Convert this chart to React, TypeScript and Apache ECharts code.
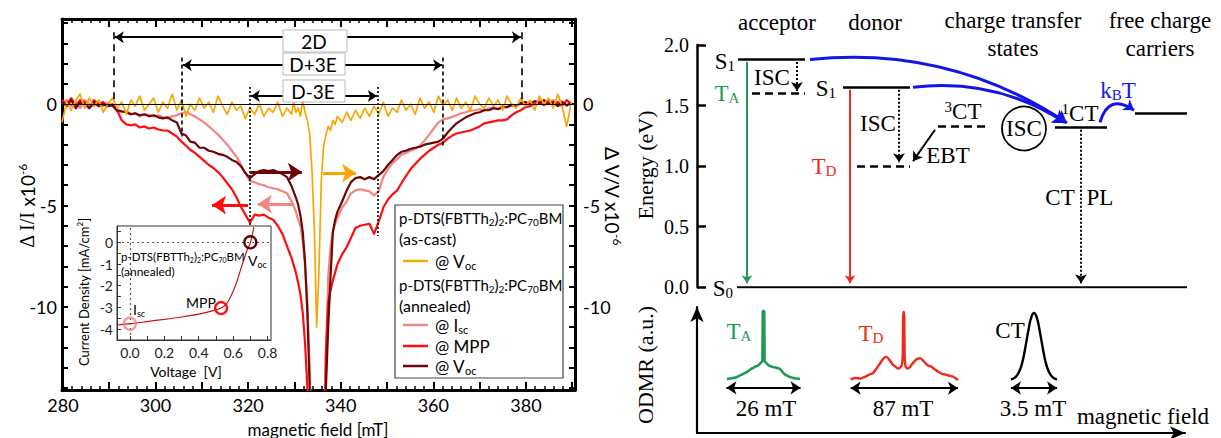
import { useEffect, useRef } from 'react';
import * as echarts from 'echarts';

const SANS = 'Lato, "Open Sans", "DejaVu Sans", sans-serif';
const SERIF = '"Liberation Serif", "DejaVu Serif", serif';

const ORANGE = '#F9A602';
const PINK = '#F28482';
const RED = '#FF0D0D';
const DARK = '#6E0606';
const GREEN = '#1F9A55';
const TDRED = '#EE2B1A';
const BLUE = '#1414E6';

// ---------- main panel: magnetic field (mT) ----------
const field = [
  279.8, 280.8, 281.8, 282.8, 283.7, 284.7, 285.7, 286.7, 287.7, 288.7,
  289.7, 290.7, 291.7, 292.7, 293.7, 294.7, 295.6, 296.6, 297.6, 298.6,
  299.6, 300.6, 301.6, 302.6, 303.6, 304.6, 305.6, 306.6, 307.5, 308.5,
  309.5, 310.5, 311.5, 312.5, 313.5, 314.5, 315.5, 316.5, 317.5, 318.4,
  319.4, 320.4, 321.4, 322.4, 323.4, 324.4, 325.4, 326.4, 327.4, 328.4,
  329.4, 329.8, 330.3, 330.8, 331.3, 331.8, 332.3, 332.8, 333.3, 333.8,
  334.3, 334.8, 335.3, 335.8, 336.3, 336.8, 337.3, 337.8, 338.3, 338.8,
  339.3, 340.3, 341.3, 342.2, 343.2, 344.2, 345.2, 346.2, 347.2, 348.2,
  349.2, 350.2, 351.2, 352.2, 353.1, 354.1, 355.1, 356.1, 357.1, 358.1,
  359.1, 360.1, 361.1, 362.1, 363.1, 364.1, 365.0, 366.0, 367.0, 368.0,
  369.0, 370.0, 371.0, 372.0, 373.0, 374.0, 375.0, 375.9, 376.9, 377.9,
  378.9, 379.9, 380.9, 381.9, 382.9, 383.9, 384.9, 385.9, 386.9, 387.8,
  388.8, 389.8,
];

// as-cast @ Voc (ΔV/V x1e-6)
const asCastVoc = [
  -0.9, 0.1, -0.3, 0.2, 0.5, -0.2, 0.3, -0.1, 0.2, -0.4,
  0.0, 0.3, -0.2, 0.1, -0.5, 0.2, -0.1, 0.4, -0.3, 0.0,
  0.3, -0.4, 0.1, -0.2, 0.5, -0.3, 0.2, -0.6, 0.0, -0.3,
  0.3, -0.2, 0.1, -0.4, 0.4, -0.1, -0.5, 0.1, -0.3, -0.1,
  -0.7, -0.2, -0.5, 0.0, -0.6, -0.2, -0.4, 0.1, -0.6, -0.2,
  -0.5, 0.1, -0.4, -0.2, -0.6, 0.2, -0.4, -0.8, -1.5, -3.3,
  -6.2, -11.0, -8.2, -3.8, -2.1, -1.5, -1.1, -1.3, -0.8, -1.0,
  -0.6, -0.9, -0.4, -0.8, -0.3, -0.7, -0.2, -0.6, -0.1, -0.5,
  0.1, -0.6, -0.2, -0.4, 0.2, -0.3, 0.0, -0.5, 0.3, -0.2,
  0.1, -0.4, 0.4, -0.1, 0.2, -0.3, 0.3, -0.2, 0.1, -0.3,
  0.4, 0.0, -0.2, 0.3, -0.1, 0.2, -0.3, 0.4, 0.0, -0.2,
  0.3, -0.1, 0.2, -0.3, 0.4, 0.0, 0.3, -0.2, 0.5, -0.1,
  -1.1, 0.1,
];

// annealed @ Isc (ΔI/I x1e-6)
const annealedIsc = [
  0.0, 0.2, -0.1, 0.1, -0.2, 0.2, 0.0, -0.1, 0.15, -0.1,
  0.05, -0.1, -0.35, -0.4, -0.35, -0.5, -0.45, -0.6, -0.5, -0.55,
  -0.6, -0.55, -0.65, -0.7, -0.6, -0.55, -0.45, -0.4, -0.5, -0.6,
  -0.75, -0.9, -1.1, -1.3, -1.5, -1.75, -2.0, -2.3, -2.6, -2.95,
  -3.4, -3.8, -3.85, -3.95, -4.0, -4.1, -4.15, -4.2, -4.3, -4.4,
  -4.8, -5.0, -5.3, -5.7, -6.0, -6.8, -8.0, -9.8, -13, -17,
  -20, -20, -20, -20, -17, -12.5, -8.5, -7.0, -6.3, -5.9,
  -5.6, -5.1, -4.8, -4.4, -4.25, -4.2, -4.25, -4.3, -4.5, -4.3,
  -3.6, -3.2, -2.9, -2.7, -2.5, -2.4, -2.3, -2.2, -2.05, -1.8,
  -1.5, -1.2, -0.9, -0.75, -0.7, -0.62, -0.55, -0.45, -0.4, -0.32,
  -0.3, -0.25, -0.3, -0.2, -0.15, -0.2, -0.1, -0.15, 0.0, -0.1,
  0.1, -0.05, 0.15, 0.0, 0.2, -0.05, 0.1, 0.2, 0.0, 0.15,
  -0.1, 0.1,
];

// annealed @ MPP
const annealedMpp = [
  0.2, 0.0, 0.3, -0.1, 0.2, 0.1, -0.2, 0.2, 0.0, 0.1,
  -0.1, 0.0, -0.3, -0.8, -1.0, -1.05, -1.0, -1.15, -1.1, -1.2,
  -1.15, -1.25, -1.3, -1.3, -1.45, -1.6, -1.85, -2.05, -2.25, -2.4,
  -2.6, -2.8, -3.0, -3.15, -3.35, -3.6, -3.9, -4.2, -4.6, -5.05,
  -5.45, -5.85, -5.45, -5.5, -5.45, -5.6, -5.7, -6.0, -6.4, -7.0,
  -7.6, -7.9, -8.3, -8.8, -9.4, -10.3, -11.8, -14, -17, -20,
  -20, -20, -20, -20, -20, -12.2, -9.8, -9.2, -8.7, -8.3,
  -7.9, -7.4, -7.05, -6.6, -6.1, -6.0, -5.95, -5.9, -6.4, -5.8,
  -5.1, -4.7, -4.45, -4.25, -3.9, -3.55, -3.2, -2.95, -2.7, -2.5,
  -2.3, -2.15, -2.0, -1.9, -1.7, -1.55, -1.45, -1.4, -1.35, -1.3,
  -1.2, -1.1, -0.95, -0.9, -0.85, -0.8, -0.8, -0.75, -0.55, -0.4,
  -0.3, -0.15, -0.1, 0.0, 0.1, -0.05, 0.15, 0.0, 0.1, -0.1,
  0.2, 0.0,
];

// annealed @ Voc
const annealedVoc = [
  0.1, -0.1, 0.2, -0.2, 0.1, 0.0, -0.2, 0.1, -0.1, 0.0,
  -0.1, -0.05, -0.3, -0.35, -0.4, -0.5, -0.45, -0.55, -0.5, -0.6,
  -0.55, -0.65, -0.7, -0.65, -0.8, -0.9, -1.45, -1.55, -1.85, -1.9,
  -2.15, -2.15, -2.3, -2.35, -2.45, -2.5, -2.6, -2.75, -2.85, -3.05,
  -3.4, -3.65, -3.45, -3.3, -3.25, -3.3, -3.25, -3.35, -3.45, -3.6,
  -4.05, -4.3, -4.6, -4.95, -5.5, -6.3, -7.8, -10.3, -14, -18,
  -20, -20, -20, -20, -18, -14, -11, -8.5, -6.3, -5.7,
  -5.3, -4.8, -4.25, -3.85, -3.65, -3.6, -3.7, -3.6, -3.7, -3.5,
  -3.3, -3.0, -2.75, -2.5, -2.35, -2.3, -2.2, -2.15, -2.1, -2.0,
  -1.95, -1.9, -1.85, -1.7, -1.4, -1.15, -0.95, -0.8, -0.65, -0.55,
  -0.45, -0.4, -0.3, -0.3, -0.2, -0.25, -0.15, -0.15, -0.05, -0.1,
  0.05, 0.1, 0.0, 0.15, 0.05, 0.2, 0.0, 0.1, -0.1, 0.1,
  -0.05, 0.05,
];

const xMajorTicks = [280, 290, 300, 310, 320, 330, 340, 350, 360, 370, 380, 390];
const xLabelValues = [280, 300, 320, 340, 360, 380];
const xMinorTicks = [
  282, 284, 286, 288, 292, 294, 296, 298, 302, 304, 306, 308, 312, 314, 316, 318,
  322, 324, 326, 328, 332, 334, 336, 338, 342, 344, 346, 348, 352, 354, 356, 358,
  362, 364, 366, 368, 372, 374, 376, 378, 382, 384, 386, 388,
];
const yTicks = [-14, -13, -12, -11, -10, -9, -8, -7, -6, -5, -4, -3, -2, -1, 0, 1, 2, 3, 4];
const yLabelValues = [-10, -5, 0];

// splittings (mT)
const splitNames = ['2D', 'D+3E', 'D-3E'];
const splitLow = [291.0, 305.7, 320.4];
const splitHigh = [379.1, 362.1, 348.0];

// ---------- inset: J-V curve ----------
const insetVoltage = [-0.075, 0, 0.1, 0.2, 0.3, 0.4, 0.45, 0.5, 0.53, 0.56, 0.58, 0.6, 0.62, 0.64, 0.66, 0.68, 0.7, 0.71, 0.72];
const insetCurrent = [-3.81, -3.75, -3.65, -3.55, -3.44, -3.31, -3.22, -3.11, -3.03, -2.85, -2.6, -2.25, -1.85, -1.35, -0.85, -0.38, -0.02, 0.3, 0.7];
const opPointVoltage = [0, 0.53, 0.7];
const opPointCurrent = [-3.75, -3.03, 0];
const insetXTicks = [0, 0.1, 0.2, 0.3, 0.4, 0.5, 0.6, 0.7, 0.8];
const insetXLabels = [0, 0.2, 0.4, 0.6, 0.8];
const insetYTicks = [-4.5, -4, -3.5, -3, -2.5, -2, -1.5, -1, -0.5, 0, 0.5];
const insetYLabels = [-4, -3, -2, -1, 0];

// ---------- energy diagram (eV) ----------
const E_S1_ACC = 1.88;
const E_TA = 1.6;
const E_S1_DON = 1.65;
const E_TD = 1.0;
const E_3CT = 1.33;
const E_1CT = 1.32;
const E_FREE = 1.44;
const E_S0 = 0;

// ---------- ODMR spectra ----------
const taField = [-13, -10, -7.9, -6, -4.7, -3, -1.8, -0.9, -0.4, -0.25, 0.25, 0.4, 0.9, 1.8, 3, 4.3, 5.8, 7.5, 9.3, 11, 13];
const taSignal = [0, 0.02, 0.06, 0.1, 0.14, 0.18, 0.2, 0.24, 0.26, 1.0, 1.0, 0.26, 0.24, 0.2, 0.18, 0.17, 0.15, 0.07, 0.03, 0.01, 0];
const tdField = [-43, -39, -35, -31, -28, -25, -22, -19, -17, -15, -13, -11, -9, -7, -5, -3, -1.5, -0.8, -0.3, 0.3, 0.8, 1.5, 3, 5, 7, 9, 11, 13.5, 16, 18, 20, 22, 25, 28, 31, 34, 37, 40, 44];
const tdSignal = [0.01, 0.03, 0.02, 0.05, 0.08, 0.1, 0.17, 0.25, 0.3, 0.34, 0.33, 0.28, 0.23, 0.2, 0.17, 0.18, 0.22, 0.35, 1.0, 1.0, 0.35, 0.2, 0.17, 0.19, 0.24, 0.28, 0.31, 0.32, 0.28, 0.24, 0.21, 0.2, 0.16, 0.12, 0.09, 0.08, 0.06, 0.05, 0.0];
const ctField = [-1.75, -1.5, -1.25, -1.0, -0.8, -0.6, -0.4, -0.2, 0, 0.2, 0.4, 0.6, 0.8, 1.0, 1.25, 1.5, 1.75];
const ctSignal = [0.01, 0.03, 0.08, 0.19, 0.34, 0.55, 0.77, 0.94, 1.0, 0.94, 0.77, 0.55, 0.34, 0.19, 0.08, 0.03, 0.01];

const zip = (xs: number[], ys: number[]) => xs.map((x, i) => [x, ys[i]]);

function trace(name: string, ys: number[], color: string, width: number, extra: any = {}) {
  return {
    type: 'line', name, xAxisIndex: 0, yAxisIndex: 0, data: zip(field, ys),
    symbol: 'none', showSymbol: false, clip: true, z: 2, silent: true,
    lineStyle: { color, width, join: 'round' }, ...extra,
  };
}

function seg(coords: number[][][], color: string, width: number, type: any, arrow: any, xi: number, yi: number, extra: any = {}) {
  return {
    type: 'lines', coordinateSystem: 'cartesian2d', xAxisIndex: xi, yAxisIndex: yi, z: 4, silent: true,
    symbol: arrow, symbolSize: 10,
    lineStyle: { color, width, type, opacity: 1, curveness: 0 },
    data: coords.map((c) => ({ coords: c })),
    ...extra,
  };
}

function txt(x: number, y: number, text: string, o: any = {}) {
  return {
    type: 'text', x, y, z: 50, silent: true, rotation: o.rotation || 0,
    style: {
      text, fill: o.fill || '#000', fontFamily: o.fontFamily || SANS, fontSize: o.fontSize || 17,
      align: o.align || 'center', verticalAlign: o.verticalAlign || 'middle', rich: o.rich,
    },
  };
}

const richSans = (size: number) => ({
  n: { fontFamily: SANS, fontSize: size, lineHeight: size + 3 },
  s: { fontFamily: SANS, fontSize: Math.round(size * 0.65), lineHeight: 6, verticalAlign: 'bottom' },
  u: { fontFamily: SANS, fontSize: Math.round(size * 0.65), lineHeight: 6, verticalAlign: 'top' },
  r: { fontFamily: SERIF, fontSize: size + 1, lineHeight: size + 3 },
});
const richSerif = (size: number) => ({
  m: { fontFamily: SERIF, fontSize: size, lineHeight: size + 1 },
  s: { fontFamily: SERIF, fontSize: Math.round(size * 0.66), lineHeight: 6, verticalAlign: 'bottom' },
  p: { fontFamily: SERIF, fontSize: Math.round(size * 0.66), lineHeight: 6, verticalAlign: 'top' },
});

const line = (x1: number, y1: number, x2: number, y2: number, stroke: string, w: number) => ({
  type: 'line', z: 45, silent: true, shape: { x1, y1, x2, y2 }, style: { stroke, lineWidth: w },
});
const box = (x: number, y: number, w: number, h: number, stroke: string, lw: number) => ({
  type: 'rect', z: 40, silent: true, shape: { x, y, width: w, height: h }, style: { fill: '#fff', stroke, lineWidth: lw },
});

function buildOption() {
  const mainX = (position: string, major: boolean, labels: boolean) => ({
    type: 'value', gridIndex: 0, position, min: 279.8, max: 390.6,
    axisLine: { show: major, onZero: false, lineStyle: { color: '#000', width: 3 } },
    axisTick: { show: true, inside: true, length: major ? 8 : 4, lineStyle: { color: '#000', width: major ? 2 : 1.5 }, customValues: major ? xMajorTicks : xMinorTicks },
    axisLabel: labels ? { show: true, customValues: xLabelValues, color: '#000', fontSize: 18, fontFamily: SANS, margin: 6 } : { show: false },
    splitLine: { show: false },
  });
  const mainY = (position: string) => ({
    type: 'value', gridIndex: 0, position, min: -14.1, max: 4.2,
    axisLine: { show: true, onZero: false, lineStyle: { color: '#000', width: 3 } },
    axisTick: { show: true, inside: true, length: 6, lineStyle: { color: '#000', width: 2 }, customValues: yTicks },
    axisLabel: { show: true, customValues: yLabelValues, color: '#000', fontSize: 18, fontFamily: SANS, margin: position === 'left' ? 5 : 8 },
    splitLine: { show: false },
  });
  const hidden = (gridIndex: number, min: number, max: number) => ({ type: 'value', gridIndex, min, max, show: false, splitLine: { show: false } });

  const xAxis = [
    mainX('bottom', true, true),
    mainX('bottom', false, false),
    mainX('top', true, false),
    mainX('top', false, false),
    {
      type: 'value', gridIndex: 1, position: 'bottom', min: -0.075, max: 0.82, z: 6,
      axisLine: { onZero: false, lineStyle: { color: '#333', width: 1 } },
      axisTick: { inside: true, length: 4, customValues: insetXTicks, lineStyle: { color: '#333' } },
      axisLabel: { customValues: insetXLabels, formatter: (v: number) => v.toFixed(1), fontSize: 14, fontFamily: SANS, color: '#222', margin: 5 },
      splitLine: { show: false },
    },
    hidden(2, 0, 500),
    {
      type: 'value', gridIndex: 3, min: 0, max: 1,
      axisLine: { show: true, onZero: false, symbol: ['none', 'arrow'], symbolSize: [10, 15], lineStyle: { color: '#000', width: 2.2 } },
      axisTick: { show: false }, axisLabel: { show: false }, splitLine: { show: false },
    },
    hidden(4, -13, 13),
    hidden(5, -43.5, 44),
    hidden(6, -1.75, 1.75),
  ];
  const yAxis = [
    mainY('left'),
    mainY('right'),
    {
      type: 'value', gridIndex: 1, position: 'left', min: -4.5, max: 0.75, z: 6,
      axisLine: { onZero: false, lineStyle: { color: '#333', width: 1 } },
      axisTick: { inside: true, length: 4, customValues: insetYTicks, lineStyle: { color: '#333' } },
      axisLabel: { customValues: insetYLabels, fontSize: 14, fontFamily: SANS, color: '#222', margin: 4 },
      splitLine: { show: false },
    },
    {
      type: 'value', gridIndex: 2, min: 0, max: 2, interval: 0.5,
      axisLine: { show: true, onZero: false, lineStyle: { color: '#000', width: 2.5 } },
      axisTick: { show: true, inside: true, length: 9, lineStyle: { color: '#000', width: 2.5 } },
      axisLabel: { formatter: (v: number) => v.toFixed(1), fontSize: 20, fontFamily: SERIF, color: '#000', margin: 8 },
      splitLine: { show: false },
    },
    {
      type: 'value', gridIndex: 3, min: 0, max: 1,
      axisLine: { show: true, onZero: false, symbol: ['none', 'arrow'], symbolSize: [10, 15], lineStyle: { color: '#000', width: 2.2 } },
      axisTick: { show: false }, axisLabel: { show: false }, splitLine: { show: false },
    },
    hidden(4, 0, 1),
    hidden(5, 0, 1),
    hidden(6, 0, 1),
  ];

  // annotation geometry (value units)
  const dashTop = [3.55, 2.3, 0.85];
  const dashBottom = [[0.2, 0.2], [-1.6, -2.1], [-6.0, -6.5]];
  const arrowY = [3.3, 1.92, 0.4];
  const boxL = [327.5, 327.5, 327.5];
  const boxR = [341.3, 340.9, 340.9];
  const dashTypes = [[7, 5], [4, 3], [2, 2]];

  const series: any[] = [
    trace('annealed @ Isc', annealedIsc, PINK, 2.2, {
      markLine: { silent: true, symbol: ['none', 'none'], label: { show: false }, lineStyle: { color: '#000', width: 1, type: 'solid' }, data: [{ yAxis: 0 }] },
    }),
    trace('annealed @ MPP', annealedMpp, RED, 2.2),
    trace('annealed @ Voc', annealedVoc, DARK, 2.2),
    trace('as-cast @ Voc', asCastVoc, ORANGE, 1.7),
  ];
  splitNames.forEach((_, i) => {
    series.push(seg([
      [[splitLow[i], dashTop[i]], [splitLow[i], dashBottom[i][0]]],
      [[splitHigh[i], dashTop[i]], [splitHigh[i], dashBottom[i][1]]],
    ], '#000', 1.6, dashTypes[i], 'none', 0, 0));
    series.push(seg([
      [[boxL[i], arrowY[i]], [splitLow[i] + 0.2, arrowY[i]]],
      [[boxR[i], arrowY[i]], [splitHigh[i] - 0.2, arrowY[i]]],
    ], '#000', 2, 'solid', ['none', 'arrow'], 0, 0, { symbolSize: 9 }));
  });
  series.push(seg([[[320.4, -3.35], [331.6, -3.35]]], DARK, 3, 'solid', ['none', 'arrow'], 0, 0, { symbolSize: 14 }));
  series.push(seg([[[336.2, -3.4], [343.3, -3.4]]], ORANGE, 3, 'solid', ['none', 'arrow'], 0, 0, { symbolSize: 14 }));
  series.push(seg([[[329.7, -4.93], [322.1, -4.93]]], PINK, 3, 'solid', ['none', 'arrow'], 0, 0, { symbolSize: 14 }));
  series.push(seg([[[320.0, -4.98], [312.2, -4.98]]], RED, 3, 'solid', ['none', 'arrow'], 0, 0, { symbolSize: 14 }));

  // inset
  series.push({
    type: 'line', xAxisIndex: 4, yAxisIndex: 2, z: 7, data: zip(insetVoltage, insetCurrent), smooth: 0.3,
    symbol: 'none', silent: true, clip: true, lineStyle: { color: '#C81414', width: 1.2 },
    markLine: { silent: true, symbol: ['none', 'none'], label: { show: false }, lineStyle: { color: '#555', width: 1.2, type: [2, 3] }, data: [{ xAxis: 0 }, { yAxis: 0 }] },
  });
  const opColors = ['rgba(240,120,120,0.75)', '#FF1010', '#5A0000'];
  series.push({
    type: 'scatter', xAxisIndex: 4, yAxisIndex: 2, z: 8, silent: true, symbol: 'circle', symbolSize: 12,
    data: opPointVoltage.map((v, i) => ({ value: [v, opPointCurrent[i]], itemStyle: { color: 'rgba(0,0,0,0)', borderColor: opColors[i], borderWidth: 2.3, opacity: 1 } })),
  });

  // energy diagram (grid 2): x offsets are layout pixels
  series.push(seg([
    [[41, E_S1_ACC], [108, E_S1_ACC]],
    [[146, E_S1_DON], [213, E_S1_DON]],
    [[358, E_1CT], [410, E_1CT]],
    [[438, E_FREE], [490, E_FREE]],
    [[40, E_S0], [490, E_S0]],
  ], '#000', 2.5, 'solid', 'none', 5, 3));
  series.push(seg([
    [[55, E_TA], [108, E_TA]],
    [[160, E_TD], [213, E_TD]],
    [[241, E_3CT], [293, E_3CT]],
  ], '#000', 2.5, [8, 5], 'none', 5, 3));
  series.push(seg([[[50, E_S1_ACC - 0.02], [50, E_S0 + 0.03]]], GREEN, 2, 'solid', ['none', 'arrow'], 5, 3, { symbolSize: 8 }));
  series.push(seg([[[153, E_S1_DON - 0.02], [153, E_S0 + 0.03]]], TDRED, 2, 'solid', ['none', 'arrow'], 5, 3, { symbolSize: 8 }));
  series.push(seg([
    [[100, E_S1_ACC - 0.02], [100, E_TA + 0.02]],
    [[202, E_S1_DON - 0.02], [202, E_TD + 0.03]],
    [[384, E_1CT - 0.02], [384, E_S0 + 0.03]],
  ], '#000', 2, [2, 2], ['none', 'arrow'], 5, 3, { symbolSize: 9 }));
  series.push(seg([[[238, E_3CT - 0.03], [216, E_TD + 0.04]]], '#000', 2, 'solid', ['none', 'arrow'], 5, 3, { symbolSize: 9 }));
  series.push(seg([
    [[113, E_S1_ACC], [370, E_1CT + 0.035]],
    [[216, E_S1_DON], [368, E_1CT + 0.04]],
  ], BLUE, 3, 'solid', ['none', 'arrow'], 5, 3, { symbolSize: 12, lineStyle: { color: BLUE, width: 3, opacity: 1, curveness: 0.18 } }));
  series.push(seg([[[403, E_1CT + 0.04], [437, E_FREE + 0.02]]], BLUE, 3, 'solid', ['none', 'arrow'], 5, 3, { symbolSize: 10, lineStyle: { color: BLUE, width: 3, opacity: 1, curveness: 0.7 } }));
  series.push({
    type: 'scatter', xAxisIndex: 5, yAxisIndex: 3, z: 6, silent: true, symbol: 'circle', symbolSize: 44,
    itemStyle: { color: '#fff', borderColor: '#000', borderWidth: 1.8, opacity: 1 },
    label: { show: true, position: 'inside', formatter: 'ISC', fontFamily: SERIF, fontSize: 23, color: '#000' },
    data: [[327, 1.31]],
  });

  // ODMR spectra
  series.push({ type: 'line', xAxisIndex: 7, yAxisIndex: 5, data: zip(taField, taSignal), symbol: 'none', silent: true, clip: false, lineStyle: { color: GREEN, width: 2.6 } });
  series.push({ type: 'line', xAxisIndex: 8, yAxisIndex: 6, data: zip(tdField, tdSignal), smooth: 0.2, symbol: 'none', silent: true, clip: false, lineStyle: { color: TDRED, width: 2.4 } });
  series.push({ type: 'line', xAxisIndex: 9, yAxisIndex: 7, data: zip(ctField, ctSignal), smooth: true, symbol: 'none', silent: true, clip: false, lineStyle: { color: '#000', width: 2.4 } });
  series.push(seg([[[-13.2, -0.13], [13.2, -0.13]]], '#000', 2, 'solid', ['arrow', 'arrow'], 7, 5, { clip: false, symbolSize: 10 }));
  series.push(seg([[[-43, -0.12], [44, -0.12]]], '#000', 2, 'solid', ['arrow', 'arrow'], 8, 6, { clip: false, symbolSize: 10 }));
  series.push(seg([[[-1.75, -0.12], [1.75, -0.12]]], '#000', 2, 'solid', ['arrow', 'arrow'], 9, 7, { clip: false, symbolSize: 10 }));

  const rs17 = richSans(17);
  const rs15 = richSans(15);
  const rs13 = richSans(13);
  const rs19 = richSans(19);
  const sr = richSerif(23);
  const subFormula = '{n|p-DTS(FBTTh}{s|2}{n|)}{s|2}{n|:PC}{s|70}{n|BM}';

  const graphic: any[] = [
    // axis titles
    txt(318, 429, 'magnetic field [mT]', { fontSize: 17 }),
    txt(27, 206, '{r|Δ I/I }{n|x10}{u|-6}', { rotation: Math.PI / 2, rich: rs19 }),
    txt(612, 196, '{n|Δ V/V x10}{u|-6}', { rotation: -Math.PI / 2, rich: rs19 }),
    // splitting boxes
    box(283, 30, 64, 22, '#bbb', 1), txt(314, 41, splitNames[0], { fontSize: 19 }),
    box(283, 53, 62, 22, '#bbb', 1), txt(313, 64, splitNames[1], { fontSize: 19 }),
    box(283, 80, 62, 22, '#bbb', 1), txt(313, 91, splitNames[2], { fontSize: 19 }),
    // legend
    box(395, 205, 168, 173, '#444', 1.2),
    txt(399, 218, subFormula, { align: 'left', rich: rs15 }),
    txt(399, 238, '(as-cast)', { align: 'left', fontSize: 16 }),
    line(403, 261, 428, 261, ORANGE, 2.5),
    txt(435, 261, '{n|@ V}{s|oc}', { align: 'left', rich: rs17 }),
    txt(399, 285, subFormula, { align: 'left', rich: rs15 }),
    txt(399, 305, '(annealed)', { align: 'left', fontSize: 16 }),
    line(403, 325, 428, 325, PINK, 2.5),
    txt(435, 325, '{n|@ I}{s|sc}', { align: 'left', rich: rs17 }),
    line(403, 346, 428, 346, RED, 2.5),
    txt(435, 346, '@ MPP', { align: 'left', fontSize: 17 }),
    line(403, 366, 428, 366, DARK, 2.5),
    txt(435, 366, '{n|@ V}{s|oc}', { align: 'left', rich: rs17 }),
    // inset labels
    txt(84, 292, '{n|Current Density [mA/cm}{u|2}{n|]}', { rotation: Math.PI / 2, rich: rs13 }),
    txt(186, 371, 'Voltage  [V]', { fontSize: 14 }),
    txt(121, 256, subFormula, { align: 'left', rich: richSans(11.5) }),
    txt(121, 271, '(annealed)', { align: 'left', fontSize: 12 }),
    txt(133, 309, '{n|I}{s|sc}', { align: 'left', rich: richSans(14) }),
    txt(201, 302, 'MPP', { fontSize: 14 }),
    txt(248, 260, '{n|V}{s|oc}', { align: 'left', rich: richSans(14) }),
    // energy diagram labels
    txt(777, 22, 'acceptor', { fontFamily: SERIF, fontSize: 23 }),
    txt(875, 22, 'donor', { fontFamily: SERIF, fontSize: 23 }),
    txt(1013, 20, 'charge transfer', { fontFamily: SERIF, fontSize: 23 }),
    txt(1013, 48, 'states', { fontFamily: SERIF, fontSize: 23 }),
    txt(1160, 20, 'free charge', { fontFamily: SERIF, fontSize: 23 }),
    txt(1160, 48, 'carriers', { fontFamily: SERIF, fontSize: 23 }),
    txt(645, 165, 'Energy (eV)', { fontFamily: SERIF, fontSize: 22, rotation: Math.PI / 2 }),
    txt(735, 61, '{m|S}{s|1}', { align: 'right', rich: sr }),
    txt(727, 93, '{m|T}{s|A}', { rich: sr, fill: GREEN }),
    txt(772, 77, 'ISC', { fontFamily: SERIF, fontSize: 23 }),
    txt(836, 88, '{m|S}{s|1}', { align: 'right', rich: sr }),
    txt(878, 123, 'ISC', { fontFamily: SERIF, fontSize: 23 }),
    txt(824, 166, '{m|T}{s|D}', { rich: sr, fill: TDRED }),
    txt(948, 155, 'EBT', { fontFamily: SERIF, fontSize: 23 }),
    txt(963, 111, '{p|3}{m|CT}', { rich: sr }),
    txt(1080, 113, '{p|1}{m|CT}', { rich: sr }),
    txt(1118, 90, '{m|k}{s|B}{m|T}', { rich: sr, fill: BLUE }),
    txt(1060, 197, 'CT', { fontFamily: SERIF, fontSize: 23 }),
    txt(1100, 197, 'PL', { fontFamily: SERIF, fontSize: 23 }),
    txt(733, 288, '{m|S}{s|0}', { align: 'right', rich: sr }),
    // ODMR labels
    txt(645, 365, 'ODMR (a.u.)', { fontFamily: SERIF, fontSize: 22, rotation: Math.PI / 2 }),
    txt(739, 331, '{m|T}{s|A}', { rich: sr, fill: GREEN }),
    txt(871, 333, '{m|T}{s|D}', { rich: sr, fill: TDRED }),
    txt(1010, 330, 'CT', { fontFamily: SERIF, fontSize: 23 }),
    txt(766, 408, '26 mT', { fontFamily: SERIF, fontSize: 23 }),
    txt(903, 408, '87 mT', { fontFamily: SERIF, fontSize: 23 }),
    txt(1033, 408, '3.5 mT', { fontFamily: SERIF, fontSize: 23 }),
    txt(1143, 416, 'magnetic field', { fontFamily: SERIF, fontSize: 23 }),
  ];

  return {
    animation: false,
    backgroundColor: '#fff',
    grid: [
      { left: 62, top: 19, width: 513, height: 371 },
      { left: 117, top: 226, width: 154, height: 114, show: true, backgroundColor: '#fff', borderColor: '#333', borderWidth: 1, z: 5 },
      { left: 697, top: 45, width: 500, height: 242 },
      { left: 697, top: 307, width: 488, height: 126 },
      { left: 727, top: 311, width: 73, height: 68 },
      { left: 850, top: 312, width: 108, height: 68 },
      { left: 1011, top: 313, width: 46, height: 67 },
    ],
    xAxis,
    yAxis,
    series,
    graphic,
  };
}

export default function App() {
  const ref = useRef<HTMLDivElement>(null);
  useEffect(() => {
    const chart = echarts.init(ref.current as HTMLDivElement, undefined, { renderer: 'svg' });
    chart.setOption(buildOption() as any);
    return () => chart.dispose();
  }, []);
  return <div ref={ref} style={{ position: 'fixed', left: 0, top: 0, width: 1221, height: 438, background: '#fff' }} />;
}
